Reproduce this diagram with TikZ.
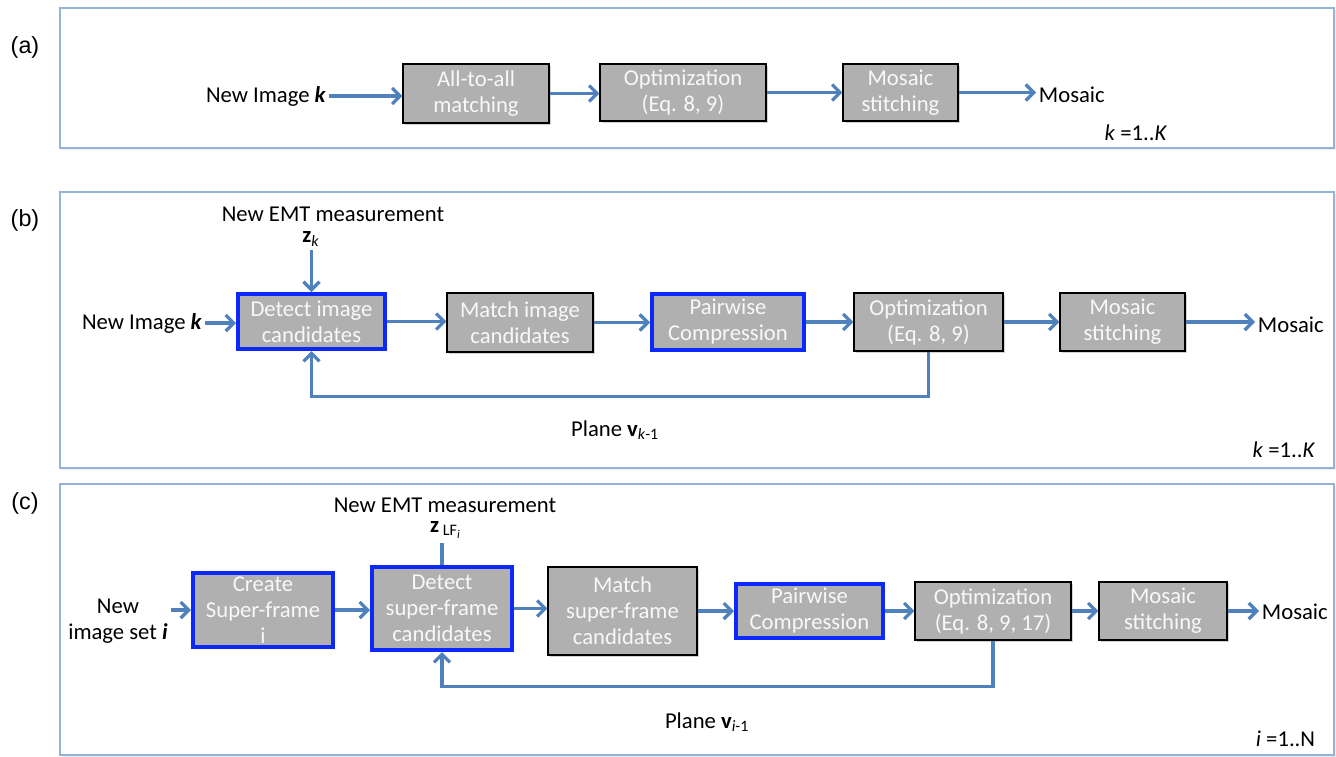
\documentclass[tikz,border=0pt]{standalone}
\usepackage{fontspec}
\setmainfont{Carlito}
\newfontfamily\arialf{Liberation Sans}
\usetikzlibrary{arrows.meta,shadows,calc}
\definecolor{arrowblue}{RGB}{79,129,189}
\definecolor{framec}{RGB}{149,179,215}
\definecolor{boxgray}{RGB}{176,176,176}
\definecolor{thickblue}{RGB}{12,40,250}
\definecolor{boxtext}{RGB}{248,248,248}
\newcommand\mainf{\fontsize{17}{19.5}\selectfont}
\newcommand\mybox[6]{%
  \node[#1, minimum width={(#4-#2)*0.75pt}, minimum height={(#5-#3)*0.75pt}]
    (#6) at ({(#2+#4)/2},{(#3+#5)/2})}
\begin{document}
\begin{tikzpicture}[x=0.75pt,y=-0.75pt,
  txt/.style={font=\mainf, inner sep=2pt, align=center},
  tight/.style={txt, inner sep=0pt},
  lbl/.style={font=\arialf\fontsize{17.5}{20}\selectfont, inner sep=0pt},
  box/.style={draw=black, line width=0.8pt, fill=boxgray, text=boxtext,
    align=center, font=\mainf, inner sep=0pt,
    drop shadow={shadow xshift=1.2pt, shadow yshift=-1.2pt, opacity=0.35}},
  bluebox/.style={box, draw=thickblue, line width=3pt},
  frame/.style={draw=framec, line width=1.3pt, fill=white,
    drop shadow={shadow xshift=1.2pt, shadow yshift=-1.2pt, opacity=0.15}},
  arr/.style={draw=arrowblue, line width=2.6pt,
    -{Straight Barb[length=6pt,width=12pt,line width=2.4pt]}},
  link/.style={draw=arrowblue, line width=2.6pt}]
\useasboundingbox (0,0) rectangle (1336,757);

% frames
\draw[frame] (60,8) rectangle (1334,148);
\draw[frame] (60,192) rectangle (1334,468);
\draw[frame] (60,484) rectangle (1334,755);

% ---------------- (a)
\node[lbl] (la) at (25,47) {(a)};
\node[txt] (ina) at (266,96) {New Image \textbf{\textit{k}}};
\mybox{box}{403}{64}{549}{123}{a1} {All-to-all\\matching};
\mybox{box}{600}{64}{766}{121}{a2} {Optimization\\(Eq. 8, 9)};
\mybox{box}{843}{64}{958}{121}{a3} {Mosaic\\stitching};
\node[txt, anchor=west] (outa) at (1036,95) {Mosaic};
\node[txt, anchor=east] (ka) at (1170,133) {\textit{k} =1..\textit{K}};
\draw[arr] (ina.east) -- (ina.east -| a1.west);
\draw[arr] (a1.east) -- (a1.east -| a2.west);
\draw[arr] (a2.east) -- (a2.east -| a3.west);
\draw[arr] (a3.east) -- (a3.east -| outa.west);

% ---------------- (b)
\node[lbl] (lb) at (25,220) {(b)};
\node[tight] (emtb) at (333,214) {New EMT measurement};
\node[tight] (zk) at (311,239) {\textbf{z}\textsubscript{\textit{k}}};
\mybox{bluebox}{238}{294}{385}{349}{b1} {Detect image\\candidates};
\mybox{box}{447}{293}{593}{352}{b2} {Match image\\candidates};
\mybox{bluebox}{652}{294}{804}{350}{b3} {Pairwise\\Compression};
\mybox{box}{854}{293}{1003}{351}{b4} {Optimization\\(Eq. 8, 9)};
\mybox{box}{1060}{293}{1185}{351}{b5} {Mosaic\\stitching};
\node[txt] (inb) at (142,323) {New Image \textbf{\textit{k}}};
\node[txt, anchor=west] (outb) at (1255,325) {Mosaic};
\node[txt] (planeb) at (615,430) {Plane \textbf{v}\textsubscript{\textit{k}-1}};
\node[txt, anchor=east] (kb) at (1318,450) {\textit{k} =1..\textit{K}};
\draw[arr] ([yshift=-3pt]zk.south -| b1.north) -- (b1.north);
\draw[arr] (inb.east) -- (inb.east -| b1.west);
\draw[arr] (b1.east) -- (b1.east -| b2.west);
\draw[arr] (b2.east) -- (b2.east -| b3.west);
\draw[arr] (b3.east) -- (b3.east -| b4.west);
\draw[arr] (b4.east) -- (b4.east -| b5.west);
\draw[arr] (b5.east) -- (b5.east -| outb.west);
\draw[arr] (b4.south) -- ++(0,45) -| (b1.south);

% ---------------- (c)
\node[lbl] (lc) at (25,503) {(c)};
\node[tight] (emtc) at (445,505) {New EMT measurement};
\node[tight] (zlf) at (445,530) {\textbf{z}\,{\fontsize{12}{12}\selectfont\raisebox{-0.35ex}{LF\raisebox{-0.45ex}{\fontsize{9}{9}\selectfont\itshape i}}}};
\mybox{bluebox}{193}{573}{333}{647}{c1} {Create\\Super-frame\\i};
\mybox{bluebox}{372}{567}{512}{650}{c2} {Detect\\super-frame\\candidates};
\mybox{box}{548}{567}{697}{655}{c3} {Match\\super-frame\\candidates};
\mybox{bluebox}{736}{584}{883}{638}{c4} {Pairwise\\Compression};
\mybox{box}{915}{582}{1071}{640}{c5} {Optimization\\(Eq. 8, 9, 17)};
\mybox{box}{1099}{582}{1227}{640}{c6} {Mosaic\\stitching};
\node[txt] (inc) at (118,621) {New\\image set \textbf{\textit{i}}};
\node[txt, anchor=west] (outc) at (1259,612) {Mosaic};
\node[txt] (planec) at (707,722) {Plane \textbf{v}\textsubscript{\textit{i}-1}};
\node[txt, anchor=east] (ic) at (1318,739) {\textit{i} =1..N};
\draw[link] ([yshift=-3pt]zlf.south -| c2.north) -- (c2.north);
\draw[arr] (inc.east |- c1.west) -- (c1.west);
\draw[arr] (c1.east) -- (c1.east -| c2.west);
\draw[arr] (c2.east) -- (c2.east -| c3.west);
\draw[arr] (c3.east) -- (c3.east -| c4.west);
\draw[arr] (c4.east) -- (c4.east -| c5.west);
\draw[arr] (c5.east) -- (c5.east -| c6.west);
\draw[arr] (c6.east) -- (c6.east -| outc.west);
\draw[arr] (c5.south) -- ++(0,46) -| (c2.south);
\end{tikzpicture}
\end{document}
